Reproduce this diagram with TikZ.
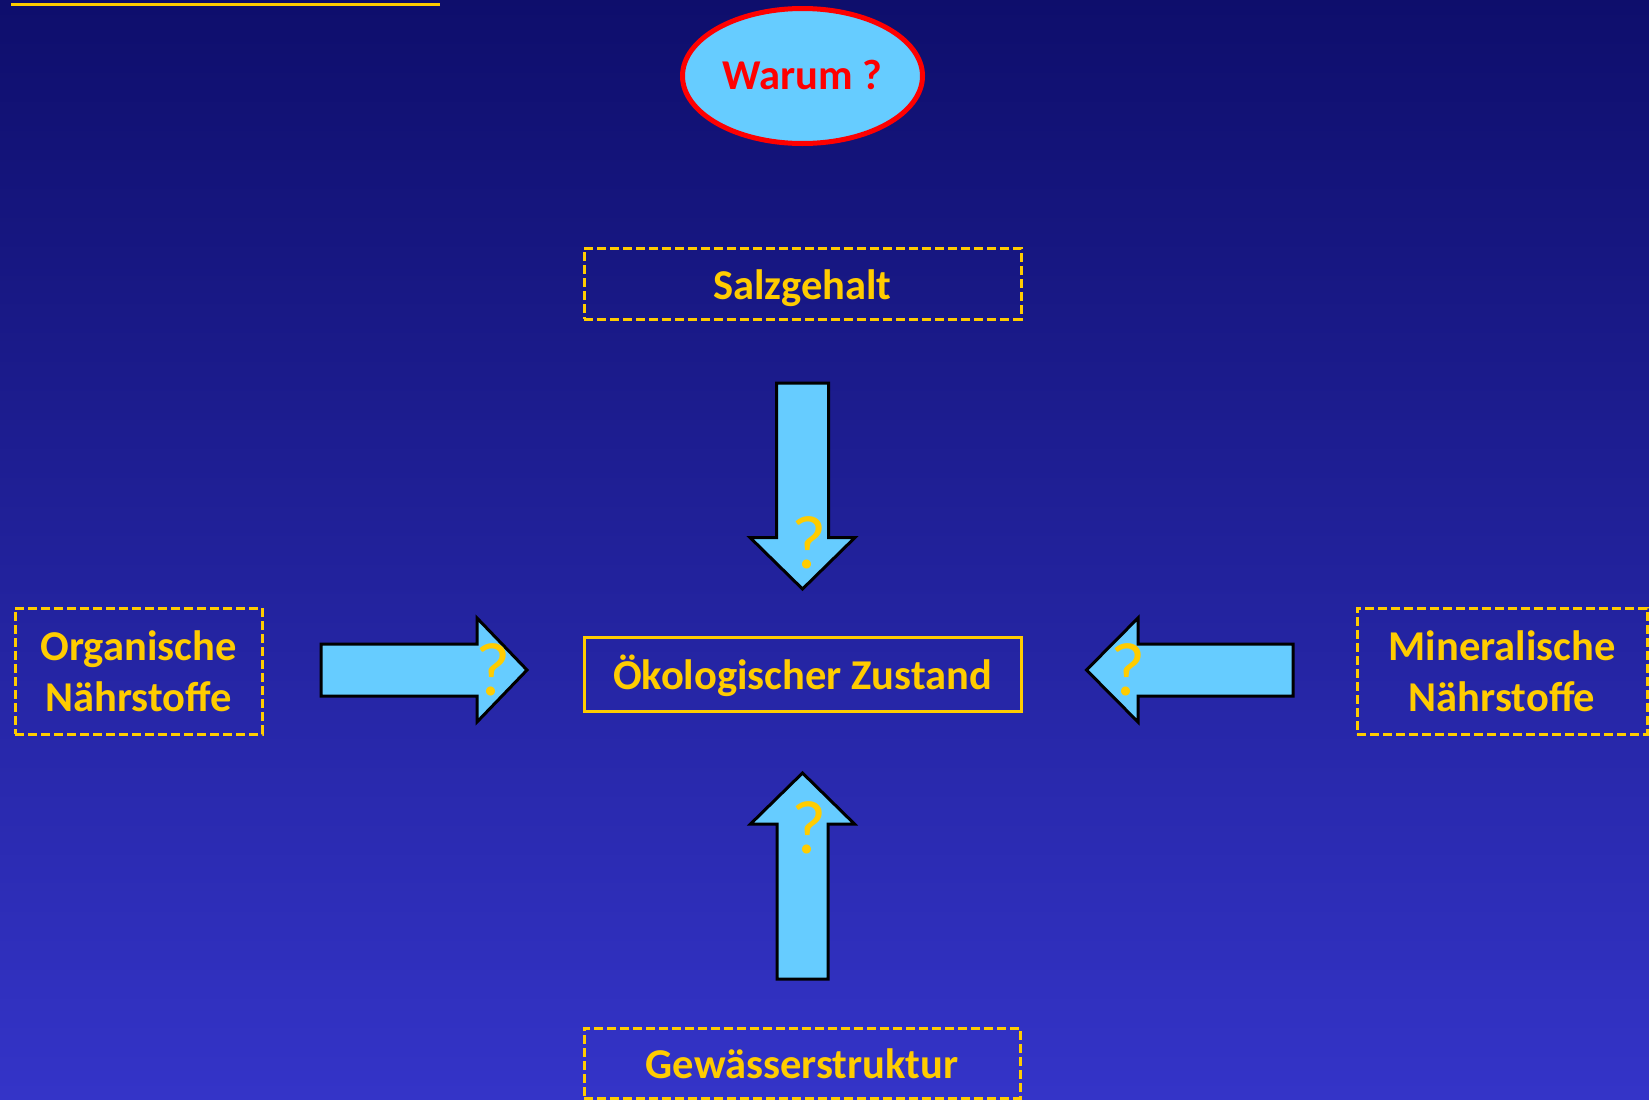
\documentclass[tikz,border=0pt]{standalone}
\usepackage{fontspec}
\setmainfont{Carlito}
\usetikzlibrary{shapes.geometric}
\definecolor{bgtop}{HTML}{0E0E6C}
\definecolor{bgbot}{HTML}{3434C8}
\definecolor{ylw}{HTML}{FFCC00}
\definecolor{arrfill}{HTML}{66CCFF}
\begin{document}
\begin{tikzpicture}[x=1pt,y=-1pt,
  lbl/.style={font=\fontsize{42.5}{50.5}\selectfont\bfseries, text=ylw, align=center, inner sep=0pt},
  oneline/.style={text height=36pt, text depth=4.6pt},
  dbox/.style={lbl, draw=ylw, line width=3pt, dash pattern=on 9pt off 4pt},
  sbox/.style={lbl, draw=ylw, line width=3pt},
  blk/.style={draw=black, line width=3pt, fill=arrfill, line join=miter},
  qm/.style={font=\fontsize{76}{76}\selectfont, text=ylw, inner sep=0pt}]
\shade[top color=bgtop, bottom color=bgbot] (0,0) rectangle (1649,1100);
\useasboundingbox (0,0) rectangle (1649,1100);
% top line
\draw[ylw, line width=3pt] (11,4.5) -- (440,4.5);
% title
\node[ellipse, draw=red, line width=5pt, fill=arrfill, minimum width=240pt, minimum height=135pt, inner sep=0pt,
      font=\fontsize{42.5}{50}\selectfont\bfseries, text=red, text height=36pt, text depth=8.6pt] (warum) at (802.5,76) {Warum ?};
% boxes
\node[dbox, oneline, minimum width=437pt, minimum height=71pt] (salz) at (802.5,283.5) {Salzgehalt};
\node[sbox, oneline, minimum width=437pt, minimum height=74pt] (zust) at (802.5,674) {Ökologischer Zustand};
\node[dbox, minimum width=247pt, minimum height=126pt] (org) at (138.5,671) {Organische\\Nährstoffe};
\node[dbox, minimum width=290pt, minimum height=126pt] (min) at (1502,671) {Mineralische\\Nährstoffe};
\node[dbox, oneline, minimum width=436pt, minimum height=70pt] (gew) at (802,1063) {Gewässerstruktur};
% block arrows
\draw[blk] (776.5,383) -- (828.5,383) -- (828.5,537.5) -- (855,537.5) -- (802.5,589) -- (750,537.5) -- (776.5,537.5) -- cycle;
\draw[blk] (777,979) -- (828,979) -- (828,824) -- (854.5,824) -- (802.5,773) -- (750.5,824) -- (777,824) -- cycle;
\draw[blk] (321,644) -- (477,644) -- (477,618) -- (527,670) -- (477,722) -- (477,696) -- (321,696) -- cycle;
\draw[blk] (1293,644) -- (1138,644) -- (1138,618) -- (1086.5,670) -- (1138,722) -- (1138,696) -- (1293,696) -- cycle;
% question marks
\node[qm] (q1) at (809,543) {?};
\node[qm] (q2) at (809,828) {?};
\node[qm] (q3) at (493,670) {?};
\node[qm] (q4) at (1128,670) {?};
\end{tikzpicture}
\end{document}
